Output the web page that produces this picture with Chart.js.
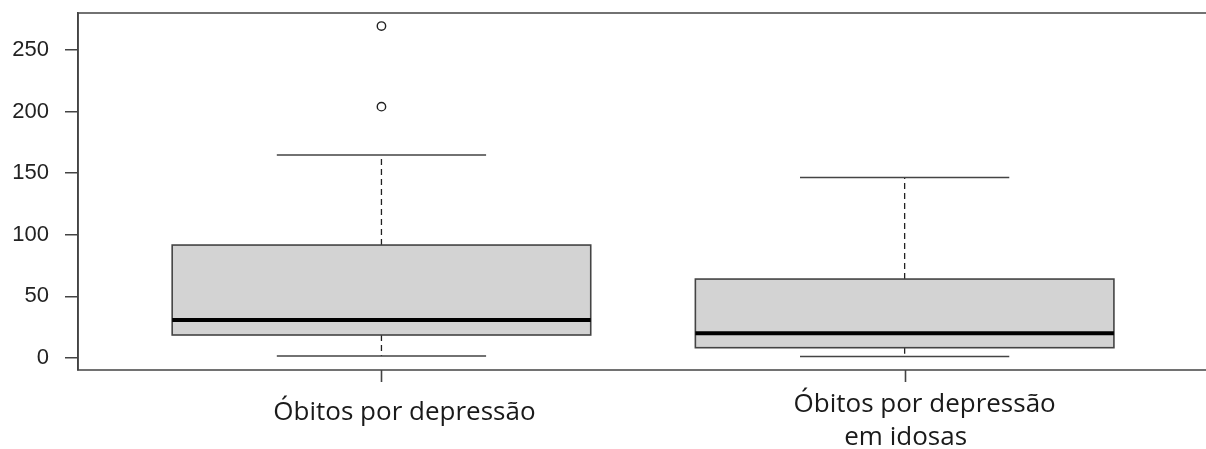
<!DOCTYPE html>
<html>
<head>
<meta charset="utf-8">
<script src="https://cdn.jsdelivr.net/npm/chart.js@4/dist/chart.umd.min.js"></script>
<style>
  html, body { margin: 0; padding: 0; background: #fff; overflow: hidden; }
  canvas { display: block; }
</style>
</head>
<body>
<canvas id="c" width="1206" height="449" style="width:1206px;height:449px"></canvas>
<script>
// ---- data ----
const categories = ['Óbitos por depressão', ['Óbitos por depressão', 'em idosas']];
const positions = [1, 2];
const whiskerLow = [1.7, 1.3];
const q1 = [18.7, 8.4];
const median = [30.9, 20.1];
const q3 = [91.7, 64.1];
const whiskerHigh = [164.8, 146.5];
const outlierValues = [[269.4, 204.0], []];
const yTicks = [0, 50, 100, 150, 200, 250];

const outlierPoints = [];
outlierValues.forEach((arr, i) => arr.forEach(v => outlierPoints.push({ x: positions[i], y: v })));

const LINE = '#444';
const boxWidth = 0.8;
const capWidth = 0.4;
const frameRight = 2.58; // plot frame right edge (just beyond the visible canvas)

const boxPlugin = {
  id: 'rbox',
  beforeDatasetsDraw(chart) {
    const { ctx, scales: { x, y } } = chart;
    ctx.save();
    positions.forEach((p, i) => {
      const cx = x.getPixelForValue(p);
      const l = x.getPixelForValue(p - boxWidth / 2);
      const r = x.getPixelForValue(p + boxWidth / 2);
      const cl = x.getPixelForValue(p - capWidth / 2);
      const cr = x.getPixelForValue(p + capWidth / 2);
      const yq1 = y.getPixelForValue(q1[i]);
      const yq3 = y.getPixelForValue(q3[i]);
      const ymed = y.getPixelForValue(median[i]);
      const ylo = y.getPixelForValue(whiskerLow[i]);
      const yhi = y.getPixelForValue(whiskerHigh[i]);
      // dashed whiskers
      ctx.strokeStyle = '#222';
      ctx.lineWidth = 1.3;
      ctx.setLineDash([6, 4]);
      ctx.beginPath();
      ctx.moveTo(cx, yq3); ctx.lineTo(cx, yhi);
      ctx.moveTo(cx, yq1); ctx.lineTo(cx, ylo);
      ctx.stroke();
      ctx.setLineDash([]);
      // caps
      ctx.strokeStyle = LINE;
      ctx.lineWidth = 1.5;
      ctx.beginPath();
      ctx.moveTo(cl, yhi); ctx.lineTo(cr, yhi);
      ctx.moveTo(cl, ylo); ctx.lineTo(cr, ylo);
      ctx.stroke();
      // box
      ctx.fillStyle = '#d3d3d3';
      ctx.fillRect(l, yq3, r - l, yq1 - yq3);
      ctx.strokeStyle = LINE;
      ctx.lineWidth = 1.6;
      ctx.strokeRect(l, yq3, r - l, yq1 - yq3);
      // median
      ctx.strokeStyle = '#000';
      ctx.lineWidth = 4;
      ctx.beginPath();
      ctx.moveTo(l, ymed); ctx.lineTo(r, ymed);
      ctx.stroke();
    });
    ctx.restore();
  },
  afterDraw(chart) {
    const { ctx, chartArea: a, scales: { x } } = chart;
    ctx.save();
    // frame (right side lies beyond the canvas)
    ctx.strokeStyle = LINE;
    ctx.lineWidth = 1.6;
    const fr = x.getPixelForValue(frameRight);
    ctx.beginPath();
    ctx.moveTo(fr, a.top); ctx.lineTo(a.left, a.top); ctx.lineTo(a.left, a.bottom); ctx.lineTo(fr, a.bottom);
    ctx.stroke();
    // x ticks
    positions.forEach(p => {
      const px = Math.round(x.getPixelForValue(p)) + 0.5;
      ctx.beginPath();
      ctx.moveTo(px, a.bottom);
      ctx.lineTo(px, a.bottom + 12);
      ctx.stroke();
    });
    // x labels
    ctx.fillStyle = '#1a1a1a';
    ctx.font = '26px "Open Sans"';
    ctx.textBaseline = 'alphabetic';
    ctx.textAlign = 'center';
    const offsets = [[23], [20, 1]];
    const baselines = [[420], [412, 445]];
    categories.forEach((lab, i) => {
      const lines = Array.isArray(lab) ? lab : [lab];
      const px = x.getPixelForValue(positions[i]);
      lines.forEach((t, j) => {
        ctx.fillText(t, px + offsets[i][j], baselines[i][j]);
      });
    });
    ctx.restore();
  }
};

new Chart(document.getElementById('c'), {
  type: 'scatter',
  data: {
    datasets: [{
      data: outlierPoints,
      pointStyle: 'circle',
      pointRadius: 4.2,
      pointBorderWidth: 1.4,
      pointBorderColor: '#222',
      pointBackgroundColor: 'rgba(0,0,0,0)',
      pointHoverRadius: 4.2
    }]
  },
  options: {
    responsive: false,
    maintainAspectRatio: false,
    devicePixelRatio: 1,
    animation: false,
    events: [],
    layout: { autoPadding: false, padding: { top: 13, right: 0, bottom: 79, left: 0 } },
    plugins: { legend: { display: false }, tooltip: { enabled: false } },
    scales: {
      x: {
        type: 'linear',
        min: 0.42,
        max: 2.576,
        display: false
      },
      y: {
        type: 'linear',
        min: -9.7,
        max: 280,
        afterFit: s => { s.width = 78; s.paddingTop = 0; s.paddingBottom = 0; },
        afterBuildTicks: s => { s.ticks = yTicks.map(v => ({ value: v })); },
        grid: { drawOnChartArea: false, drawTicks: true, tickLength: 13, color: LINE, lineWidth: 1.5 },
        border: { display: true, color: LINE, width: 1.6 },
        ticks: {
          padding: 16,
          color: '#222',
          font: { family: '"Liberation Sans", Arial', size: 22 }
        }
      }
    }
  },
  plugins: [boxPlugin]
});
</script>
</body>
</html>
